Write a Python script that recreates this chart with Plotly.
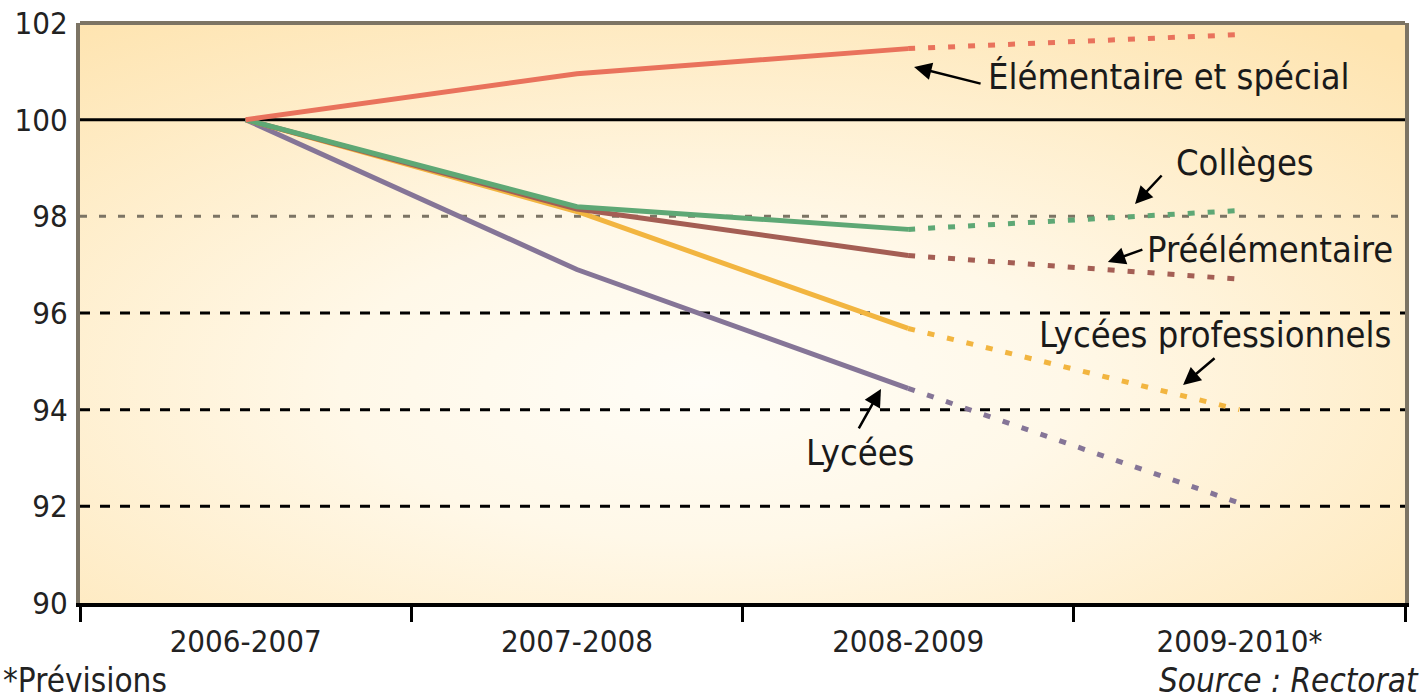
import base64
import plotly.graph_objects as go

categories = ["2006-2007", "2007-2008", "2008-2009", "2009-2010*"]
elementaire = [100, 100.95, 101.47, 101.76]
colleges = [100, 98.2, 97.73, 98.12]
preelementaire = [100, 98.15, 97.19, 96.7]
lycees_pro = [100, 98.1, 95.68, 94.0]
lycees = [100, 96.9, 94.44, 92.07]
y_ticks = [90, 92, 94, 96, 98, 100, 102]

series = [
    ("Lycées", lycees, "#857597"),
    ("Lycées professionnels", lycees_pro, "#F2B540"),
    ("Préélémentaire", preelementaire, "#A45E54"),
    ("Collèges", colleges, "#5EA875"),
    ("Élémentaire et spécial", elementaire, "#E9725C"),
]

FONT = "DejaVu Sans Condensed, sans-serif"

fig = go.Figure()
for name, vals, color in series:
    fig.add_trace(go.Scatter(x=categories[:3], y=vals[:3], mode="lines", name=name,
                             line=dict(color=color, width=5), showlegend=False,
                             hoverinfo="skip"))
    fig.add_trace(go.Scatter(x=categories[2:], y=vals[2:], mode="lines", name=name,
                             line=dict(color=color, width=5, dash="7px,13px"),
                             showlegend=False, hoverinfo="skip"))

svg = ("<svg xmlns='http://www.w3.org/2000/svg' width='1325' height='580' preserveAspectRatio='none'>"
       "<defs><radialGradient id='g' cx='0.47' cy='0.62' r='0.78'>"
       "<stop offset='0' stop-color='#FFFDF7'/><stop offset='0.35' stop-color='#FFF8E8'/>"
       "<stop offset='1' stop-color='#FEE4B0'/></radialGradient></defs>"
       "<rect width='100%' height='100%' fill='url(#g)'/></svg>")
src = "data:image/svg+xml;base64," + base64.b64encode(svg.encode()).decode()

shapes = []
for t in y_ticks[1:-1]:
    if t == 100:
        st = dict(color="black", width=3)
    elif t == 98:
        st = dict(color="#7C7464", width=3, dash="7px,12px")
    else:
        st = dict(color="black", width=3, dash="10px,10px")
    shapes.append(dict(type="line", xref="paper", x0=0, x1=1, yref="y", y0=t, y1=t,
                       line=st, layer="below"))
# top frame
shapes.append(dict(type="line", xref="paper", x0=0, x1=1, yref="paper", y0=1, y1=1,
                   line=dict(color="#7C7464", width=4)))

labels = [
    ("Élémentaire et spécial", 1169, 77),
    ("Collèges", 1245, 162),
    ("Préélémentaire", 1270, 249),
    ("Lycées professionnels", 1215, 334),
    ("Lycées", 860, 452),
]
# arrows: head (x index, y value), tail offset px
arrows = [
    (2.018, 101.09, 68, 17),
    (2.685, 98.255, 28, -30),
    (2.603, 97.055, 36, -13),
    (2.83, 94.51, 33, -28),
    (1.918, 94.43, -23, 41),
]

# plot area in window pixels: left 80, top 23, width 1325, height 580
L, T, W, H = 80, 23, 1325, 580
ann = []
for text, px, py in labels:
    ann.append(dict(text=text, xref="paper", yref="paper",
                    x=(px - L) / W, y=1 - (py - T) / H, showarrow=False,
                    xanchor="center", yanchor="middle",
                    font=dict(family=FONT, size=36, color="#1A1A1A")))
for hx, hy, ax, ay in arrows:
    ann.append(dict(text="", x=hx, y=hy, xref="x", yref="y", ax=ax, ay=ay,
                    showarrow=True, arrowhead=2, arrowsize=1.4, arrowwidth=2.5,
                    arrowcolor="black"))
ann.append(dict(text="*Prévisions", xref="paper", yref="paper", x=(1 - L) / W,
                y=-(680 - 603) / H, xanchor="left", yanchor="middle", showarrow=False,
                font=dict(family=FONT, size=33, color="#222")))
ann.append(dict(text="<i>Source : Rectorat</i>", xref="paper", yref="paper",
                x=(1421 - L) / W, y=-(680 - 603) / H, xanchor="right", yanchor="middle",
                showarrow=False, font=dict(family=FONT, size=33, color="#222")))

fig.update_layout(
    width=1422, height=699,
    margin=dict(l=L, r=17, t=T, b=96),
    paper_bgcolor="white", plot_bgcolor="#FFF6E0",
    images=[dict(source=src, xref="paper", yref="paper", x=0, y=1, sizex=1, sizey=1,
                 sizing="stretch", layer="below", xanchor="left", yanchor="top")],
    shapes=shapes, annotations=ann,
    xaxis=dict(type="category", categoryorder="array", categoryarray=categories,
               range=[-0.5, 3.5], showgrid=False, zeroline=False, automargin=False,
               showline=True, linecolor="black", linewidth=4,
               ticks="outside", tickson="boundaries", ticklen=15, tickwidth=3,
               tickcolor="black", ticklabelstandoff=8,
               tickfont=dict(family=FONT, size=31, color="#222")),
    yaxis=dict(range=[90, 102], tickvals=y_ticks, showgrid=False, zeroline=False,
               automargin=False, ticklabeloverflow="allow",
               showline=True, linecolor="#7C7464", linewidth=4, mirror=True,
               ticks="", ticklabelstandoff=2,
               tickfont=dict(family=FONT, size=31, color="#222")),
)

fig.write_html("out.html", config={"displayModeBar": False},
               post_script="document.body.style.margin='0';")
